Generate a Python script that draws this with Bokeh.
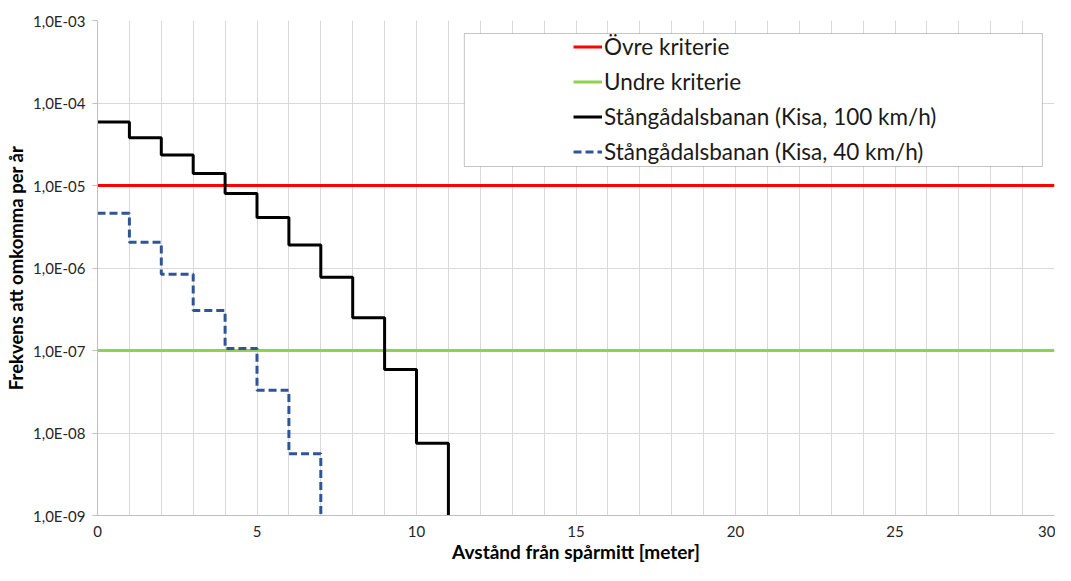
from bokeh.plotting import figure
from bokeh.models import (Range1d, FixedTicker, SingleIntervalTicker, Legend, LegendItem,
                          BoxAnnotation)
from bokeh.embed import file_html
from bokeh.resources import INLINE

# ---- data ----
x_black = [0, 1, 2, 3, 4, 5, 6, 7, 8, 9, 10, 11]
y_black = [5.9e-5, 3.8e-5, 2.35e-5, 1.4e-5, 8.0e-6, 4.1e-6, 1.9e-6, 7.7e-7, 2.5e-7, 5.9e-8, 7.5e-9, 1e-9]
x_blue = [0, 1, 2, 3, 4, 5, 6, 7]
y_blue = [4.6e-6, 2.05e-6, 8.4e-7, 3.05e-7, 1.06e-7, 3.3e-8, 5.6e-9, 1e-9]
ovre_kriterie = 1e-5
undre_kriterie = 1e-7
x_extent = [0, 30]
y_ticks = [1e-9, 1e-8, 1e-7, 1e-6, 1e-5, 1e-4, 1e-3]
y_tick_labels = ["1,0E-09", "1,0E-08", "1,0E-07", "1,0E-06", "1,0E-05", "1,0E-04", "1,0E-03"]
series_names = ["Övre kriterie", "Undre kriterie",
                "Stångådalsbanan (Kisa, 100 km/h)", "Stångådalsbanan (Kisa, 40 km/h)"]

FONT = "Lato"

p = figure(width=1055, height=565, output_backend="svg", toolbar_location=None,
           y_axis_type="log",
           x_range=Range1d(x_extent[0], x_extent[1]), y_range=Range1d(y_ticks[0], y_ticks[-1]),
           min_border_left=97, min_border_right=1, min_border_top=20, min_border_bottom=47)
p.outline_line_color = None
p.background_fill_color = "white"

# axes
p.xaxis.ticker = SingleIntervalTicker(interval=5, num_minor_ticks=5)
p.yaxis.ticker = FixedTicker(ticks=y_ticks)
p.yaxis.major_label_overrides = {t: l for t, l in zip(y_ticks, y_tick_labels)}
for ax in (p.xaxis[0], p.yaxis[0]):
    ax.axis_line_color = "#bfbfbf"
    ax.major_tick_line_color = "#bfbfbf"
    ax.minor_tick_line_color = None
    ax.major_label_text_font = FONT
    ax.major_label_text_font_size = "15px"
    ax.major_label_text_color = "#262626"
    ax.axis_label_text_font = FONT
    ax.axis_label_text_font_style = "bold"
    ax.axis_label_text_font_size = "19px"
    ax.axis_label_text_color = "black"
p.yaxis.axis_label_text_font_size = "18.5px"
p.xaxis.major_tick_out = 0
p.xaxis.major_tick_in = 0
p.xaxis.major_label_standoff = 6
p.xaxis.axis_label_standoff = 0
p.yaxis.major_tick_out = 5
p.yaxis.major_tick_in = 0
p.yaxis.major_label_standoff = 7
p.yaxis.axis_label_standoff = 3
p.xaxis.axis_label = "Avstånd från spårmitt [meter]"
p.yaxis.axis_label = "Frekvens att omkomma per år"

# grids
p.xgrid.grid_line_color = "#d9d9d9"
p.xgrid.minor_grid_line_color = "#d9d9d9"
p.ygrid.grid_line_color = "#d9d9d9"

# series
r_red = p.line(x_extent, [ovre_kriterie] * 2, line_color="#ff0000", line_width=3)
r_green = p.line(x_extent, [undre_kriterie] * 2, line_color="#92d050", line_width=3)
r_black = p.step(x_black, y_black, mode="after", line_color="black", line_width=3)
r_blue = p.step(x_blue, y_blue, mode="after", line_color="#2f5597", line_width=3,
                line_dash="8 4")

# legend box
box = BoxAnnotation(left=11.5, right=29.62, top=6.95e-4, bottom=1.70e-5,
                    fill_color="white", fill_alpha=1.0, line_color="#404040", line_width=1,
                    level="annotation")
p.add_layout(box)

legend = Legend(items=[LegendItem(label=n, renderers=[r]) for n, r in
                       zip(series_names, [r_red, r_green, r_black, r_blue])],
                location=(476, 350), orientation="vertical",
                border_line_color=None, background_fill_alpha=0,
                padding=0, margin=0, spacing=8,
                glyph_width=29, glyph_height=27, label_height=27, label_standoff=2,
                label_text_font=FONT, label_text_font_size="22.5px", label_text_color="#1a1a1a")
p.add_layout(legend)

open("out.html", "w").write(file_html(p, INLINE))
